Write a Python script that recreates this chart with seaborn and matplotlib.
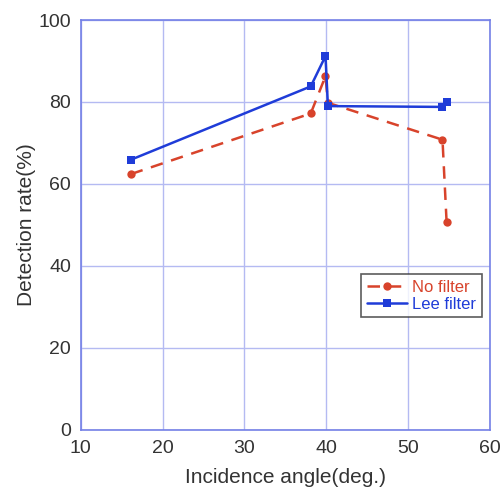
import matplotlib
matplotlib.use("Agg")
import matplotlib.pyplot as plt
import seaborn as sns
import pandas as pd

# data
angle = [16.1, 38.1, 39.9, 40.2, 54.2, 54.7]
no_filter = [62.4, 77.2, 86.3, 79.8, 70.8, 50.8]
lee_filter = [65.9, 83.8, 91.2, 79.0, 78.8, 80.0]

red = "#d8432b"
blue = "#1f3cd8"
grid_c = "#b4baf2"
spine_c = "#7480e6"

sns.set_style("white")
plt.rcParams['font.family'] = ['Liberation Sans', 'DejaVu Sans']

df = pd.DataFrame({"angle": angle, "No filter": no_filter, "Lee filter": lee_filter})

fig = plt.figure(figsize=(5.02, 4.88), dpi=100)
ax = fig.add_axes([0.161, 0.119, 0.815, 0.840])

sns.lineplot(data=df, x="angle", y="No filter", sort=False, ax=ax, color=red,
             linestyle=(0, (5, 3.5)), linewidth=1.8, marker="o", markersize=6,
             markeredgewidth=0, label="No filter")
sns.lineplot(data=df, x="angle", y="Lee filter", sort=False, ax=ax, color=blue,
             linewidth=1.8, marker="s", markersize=6, markeredgewidth=0,
             label="Lee filter")

ax.set_xlim(10, 60)
ax.set_ylim(0, 100)
ax.set_xticks([10, 20, 30, 40, 50, 60])
ax.set_yticks([0, 20, 40, 60, 80, 100])
ax.grid(True, color=grid_c, linewidth=1.0)
ax.set_axisbelow(True)
for s in ax.spines.values():
    s.set_color(spine_c)
    s.set_linewidth(1.2)
ax.tick_params(axis="both", labelsize=14, colors="#333333", direction="in",
               length=4, color=spine_c)
ax.tick_params(axis="x", pad=7)
ax.tick_params(axis="y", pad=7)
ax.set_xlabel("Incidence angle(deg.)", fontsize=15, color="#333333", labelpad=8)
ax.set_ylabel("Detection rate(%)", fontsize=15, color="#333333", labelpad=2)

leg = ax.legend(loc="upper left", bbox_to_anchor=(0.685, 0.38), fontsize=12,
                frameon=True, fancybox=False, borderpad=0.35, handlelength=2.4,
                handletextpad=0.3, labelspacing=0.1, borderaxespad=0)
leg.get_frame().set_edgecolor("#333333")
leg.get_frame().set_linewidth(1.2)
for txt, c in zip(leg.get_texts(), [red, blue]):
    txt.set_color(c)

fig.savefig("out.png", dpi=100)
